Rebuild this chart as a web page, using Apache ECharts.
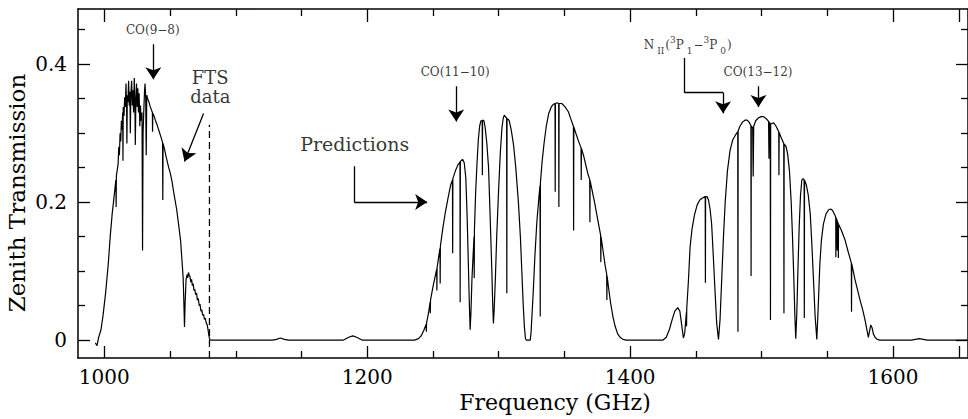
<!DOCTYPE html>
<html><head><meta charset="utf-8">
<script src="https://cdn.jsdelivr.net/npm/echarts@6/dist/echarts.min.js"></script>
<style>html,body{margin:0;padding:0;background:#fff}#c{width:968px;height:419px}</style>
</head><body><div id="c"></div>
<script>
// ---- measured FTS transmission (GHz, zenith transmission)
const ftsSpectrum = [
[993.2,-0.004],[994.5,-0.008],[995.7,0.004],[997.5,0.015],[999,0.035],[1001,0.068],[1003,0.11],[1004.5,0.15],[1006,0.183],[1007,0.2],[1008,0.218],[1008.8,0.232],[1009,0.193],[1009.2,0.238],[1010.5,0.255],[1011,0.28],[1011.5,0.268],[1012,0.3],[1012.5,0.288],[1013,0.318],[1013.5,0.305],[1014,0.33],[1014.2,0.26],[1014.4,0.338],[1015,0.325],[1015.5,0.352],[1016,0.338],[1016.5,0.372],[1017,0.33],[1017.2,0.285],[1017.5,0.355],[1018,0.345],[1018.5,0.376],[1019,0.34],[1019.5,0.36],[1019.8,0.3],[1020.2,0.355],[1020.8,0.376],[1021.3,0.34],[1021.8,0.362],[1022.3,0.33],[1022.8,0.38],[1023.3,0.342],[1023.6,0.283],[1024,0.345],[1024.5,0.372],[1025,0.338],[1025.5,0.365],[1026,0.33],[1026.5,0.358],[1027,0.31],[1027.5,0.34],[1028,0.318],[1028.7,0.33],[1029.1,0.13],[1029.5,0.3],[1030,0.33],[1030.6,0.36],[1031,0.372],[1031.5,0.352],[1031.9,0.268],[1032.3,0.355],[1033,0.35],[1034,0.345],[1035,0.338],[1036,0.333],[1036.6,0.33],[1036.7,0.302],[1036.9,0.329],[1038,0.324],[1039,0.318],[1040,0.313],[1041,0.307],[1042,0.301],[1043,0.295],[1044.3,0.287],[1044.5,0.203],[1044.7,0.285],[1046,0.275],[1047,0.266],[1048,0.258],[1049,0.25],[1050.2,0.242],[1051.5,0.23],[1053,0.212],[1055,0.19],[1056.5,0.168],[1058,0.145],[1059,0.118],[1060,0.09],[1060.6,0.05],[1061,0.019],[1061.5,0.055],[1062.2,0.088],[1063,0.095],[1063.5,0.09],[1064,0.098],[1064.6,0.094],[1065.2,0.092],[1065.8,0.084],[1066.4,0.088],[1067,0.079],[1067.6,0.082],[1068.2,0.072],[1068.8,0.074],[1069.5,0.066],[1070.2,0.068],[1070.8,0.058],[1071.5,0.06],[1072.2,0.05],[1072.8,0.052],[1073.5,0.042],[1074.2,0.044],[1074.8,0.036],[1075.5,0.037],[1076.2,0.03],[1076.8,0.032],[1077.5,0.025],[1078.3,0.022],[1079,0.014],[1079.6,0.006],[1080.2,0.001],[1080.5,0]
];
// ---- model predictions (GHz, zenith transmission)
const predSpectrum = [
[1080.5,0],[1128,0],[1131,0.001],[1134,0.003],[1137,0.001],[1140,0],[1182,0],[1186,0.004],[1189,0.006],[1192,0.004],[1196,0],[1236,0],[1239,0.002],[1241,0.006],[1243,0.014],
[1244.85,0.023],[1245,0.012],[1245.15,0.025],[1246.5,0.038],[1247.85,0.055],[1248,0.039],[1248.15,0.058],[1250,0.077],[1252.85,0.103],[1253,0.072],[1253.15,0.105],[1255.35,0.133],[1255.5,0.082],[1255.65,0.136],[1257.5,0.162],[1259.5,0.186],[1261.5,0.206],[1263.5,0.225],[1264.85,0.232],[1265,0.126],[1265.15,0.234],[1267,0.245],[1269,0.254],[1270.55,0.258],[1270.7,0.055],[1270.85,0.259],[1272.5,0.262],[1273.8,0.257],[1275,0.235],[1276,0.18],[1277,0.105],[1277.8,0.045],[1278.3,0.015],[1278.9,0.04],[1279.7,0.09],[1281.25,0.15],[1281.4,0.09],[1281.55,0.16],[1282.5,0.215],[1283.4,0.252],[1284.5,0.29],[1285.5,0.31],[1286.5,0.318],[1287.45,0.318],[1287.6,0.239],[1287.75,0.319],[1288.8,0.318],[1289.8,0.307],[1291,0.285],[1292.3,0.25],[1293.5,0.18],[1294.8,0.1],[1295.5,0.05],[1296,0.024],[1296.6,0.045],[1297.5,0.09],[1298.5,0.15],[1300,0.22],[1301.2,0.27],[1302.5,0.308],[1303.5,0.322],[1304.3,0.326],[1305.5,0.323],[1306.05,0.322],[1306.2,0.068],[1306.35,0.321],[1307.2,0.32],[1308,0.318],[1309.5,0.305],[1311.3,0.283],[1313,0.25],[1315,0.2],[1316.5,0.15],[1317.6,0.1],[1318.7,0.05],[1319.6,0.018],[1320.4,0.002],[1321,0],[1324,0],[1324.6,0.01],[1325.3,0.035],[1326.3,0.07],[1327.5,0.12],[1329,0.17],[1330.5,0.205],[1331.45,0.224],[1331.6,0.034],[1331.75,0.228],[1333,0.258],[1334.5,0.285],[1336.2,0.31],[1338,0.328],[1340,0.338],[1341.7,0.342],[1342.85,0.343],[1343,0.215],[1343.15,0.343],[1344.3,0.344],[1345.65,0.343],[1345.8,0.193],[1345.95,0.343],[1348,0.343],[1350.5,0.338],[1353,0.331],[1355,0.32],[1356.85,0.31],[1357,0.159],[1357.15,0.309],[1359,0.298],[1361,0.287],[1362.65,0.279],[1362.8,0.232],[1362.95,0.278],[1364.5,0.268],[1366.5,0.252],[1368,0.24],[1369.25,0.233],[1369.4,0.171],[1369.55,0.231],[1371.5,0.213],[1373.3,0.196],[1375.3,0.175],[1377.55,0.152],[1377.7,0.113],[1377.85,0.15],[1379.5,0.128],[1381,0.108],[1382.15,0.096],[1382.3,0.058],[1382.45,0.093],[1383.8,0.073],[1385.2,0.053],[1387,0.033],[1388.6,0.02],[1390.5,0.009],[1392.4,0.004],[1394.5,0.001],[1397,0],
[1425,0],[1427.5,0.004],[1430,0.016],[1432,0.03],[1434,0.042],[1436.2,0.047],[1437.8,0.042],[1439,0.025],[1440.5,0.003],[1441.5,0.01],[1442.8,0.04],[1442.9,0.02],[1443.05,0.045],[1444.3,0.085],[1445.6,0.135],[1447,0.16],[1449,0.182],[1451,0.196],[1453,0.203],[1455,0.206],[1457.1,0.208],[1457.25,0.083],[1457.4,0.208],[1458.5,0.208],[1459.6,0.203],[1460.8,0.19],[1462,0.168],[1463.3,0.12],[1464.6,0.07],[1465.8,0.025],[1467.2,0.001],[1468.4,0.03],[1469.7,0.09],[1471,0.15],[1472.3,0.2],[1474,0.245],[1476,0.275],[1478,0.29],[1480,0.297],[1481.85,0.302],[1482,0.012],[1482.15,0.303],[1483.5,0.31],[1485.5,0.316],[1487.5,0.319],[1489,0.319],[1490.5,0.316],[1491.85,0.311],[1492,0.093],[1492.15,0.31],[1493.2,0.308],[1493.6,0.237],[1494,0.31],[1495.5,0.318],[1497.5,0.322],[1499.5,0.324],[1501.5,0.324],[1503.5,0.321],[1505.3,0.317],[1505.6,0.263],[1505.9,0.316],[1506.6,0.314],[1506.75,0.029],[1506.9,0.313],[1508,0.314],[1509.2,0.315],[1511,0.31],[1513.05,0.302],[1513.2,0.239],[1513.35,0.301],[1515,0.293],[1516.85,0.285],[1517,0.039],[1517.15,0.284],[1518.5,0.281],[1519.8,0.27],[1521.2,0.245],[1522.5,0.2],[1523.5,0.15],[1524.5,0.09],[1525.3,0.035],[1526,0.002],[1526.8,0.04],[1527.6,0.1],[1528.6,0.165],[1529.6,0.21],[1530.6,0.232],[1531.5,0.234],[1532.35,0.232],[1532.5,0.032],[1532.65,0.232],[1534,0.225],[1535.5,0.21],[1537,0.183],[1538.2,0.14],[1539.4,0.09],[1540.7,0.035],[1542,0.001],[1543,0.045],[1544.3,0.11],[1545.5,0.145],[1547,0.168],[1549,0.183],[1551,0.189],[1552.5,0.19],[1554,0.188],[1555.8,0.181],[1556.4,0.178],[1556.5,0.12],[1556.6,0.177],[1557.4,0.174],[1557.5,0.13],[1557.6,0.172],[1558.3,0.169],[1558.4,0.119],[1558.5,0.168],[1560.5,0.16],[1563.5,0.145],[1566,0.127],[1568.25,0.112],[1568.4,0.041],[1568.55,0.111],[1571,0.088],[1574.9,0.058],[1577,0.043],[1578.7,0.029],[1580.3,0.013],[1581.2,0.004],[1582,0.012],[1583,0.022],[1584,0.018],[1585,0.009],[1586.3,0.004],[1588,0.001],[1590,0],[1614,0],[1620,0.002],[1626,0],[1657,0]
];
// ---- axis ticks
const xLabelTicks = [1000, 1200, 1400, 1600];
const xLongTicks = [1000, 1200, 1400, 1600, 1650];
const xShortTicks = [1050, 1100, 1150, 1250, 1300, 1350, 1450, 1500, 1550];
const yLabelTicks = [0, 0.2, 0.4];
const yShortTicks = [0.05, 0.1, 0.15, 0.25, 0.3, 0.35, 0.45];
// ---- FTS data limit (dashed)
const ftsLimit = [[1080, -0.026], [1080, 0.312]];
// ---- annotation arrows (data coordinates, last point = arrow head)
const arrowPaths = [
  [[1037.3, 0.429], [1037.3, 0.378]],
  [[1075.5, 0.3285], [1061.0, 0.259]],
  [[1190.1, 0.252], [1190.1, 0.2], [1245.6, 0.2]],
  [[1267.7, 0.368], [1267.7, 0.317]],
  [[1441.1, 0.409], [1441.1, 0.359], [1470.7, 0.359], [1470.7, 0.329]],
  [[1497.6, 0.368], [1497.6, 0.338]]
];
// ---- annotation labels
const labelTexts = ['CO(9\u22128)', 'FTS', 'data', 'Predictions', 'CO(11\u221210)', 'CO(13\u221212)'];
const labelAt = [[1036.9, 0.449], [1080.6, 0.381], [1080.6, 0.353], [1190.5, 0.284], [1266.9, 0.388], [1497.3, 0.388]];
const labelSize = [12, 18, 18, 19, 12, 12];
const niiAt = [1409.9, 0.4275];

const FONT = 'DejaVu Serif';
const XMIN = 980, XMAX = 1657, YMIN = -0.026, YMAX = 0.48;

function xAxisDef(position, ticks, len, showLine, showLabel) {
  return {
    type: 'value', min: XMIN, max: XMAX, position: position,
    axisLine: { show: showLine, onZero: false, lineStyle: { color: '#000', width: 1.5 } },
    axisTick: { show: true, inside: true, length: len, customValues: ticks, lineStyle: { color: '#000', width: 1.3 } },
    axisLabel: showLabel ? { show: true, customValues: xLabelTicks, color: '#000', fontFamily: FONT, fontSize: 20, margin: 9,
      formatter: v => String(Math.round(v)) } : { show: false },
    splitLine: { show: false }
  };
}
function yAxisDef(position, ticks, len, showLine, showLabel) {
  return {
    type: 'value', min: YMIN, max: YMAX, position: position,
    axisLine: { show: showLine, onZero: false, lineStyle: { color: '#000', width: 1.5 } },
    axisTick: { show: true, inside: true, length: len, customValues: ticks, lineStyle: { color: '#000', width: 1.3 } },
    axisLabel: showLabel ? { show: true, customValues: yLabelTicks, color: '#000', fontFamily: FONT, fontSize: 20, margin: 11,
      formatter: v => (Math.abs(v) < 1e-9 ? '0' : v.toFixed(1)) } : { show: false },
    splitLine: { show: false }
  };
}

const labelData = labelTexts.map((t, i) => ({
  value: labelAt[i],
  label: { show: true, position: 'inside', formatter: t, color: '#000', fontFamily: FONT, fontSize: labelSize[i], align: 'center' }
}));
labelData.push({
  value: niiAt,
  label: {
    show: true, position: 'right', distance: 0,
    formatter: '{n|N}{sb|II}{n|(}{sp|3}{n|P}{sb|1}{n|\u2212}{sp|3}{n|P}{sb|0}{n|)}',
    rich: {
      n: { fontFamily: FONT, fontSize: 12, color: '#000', lineHeight: 20 },
      sp: { fontFamily: FONT, fontSize: 9, color: '#000', verticalAlign: 'top', lineHeight: 10 },
      sb: { fontFamily: FONT, fontSize: 9, color: '#000', verticalAlign: 'bottom', lineHeight: 10, padding: [0, 1, 0, 3] }
    }
  }
});

// split each arrow path into shaft segments and a final head segment
const shaftSegs = [], headSegs = [];
arrowPaths.forEach(p => {
  for (let i = 0; i < p.length - 1; i++) {
    const seg = { coords: [p[i], p[i + 1]] };
    if (i === p.length - 2) headSegs.push(seg); else shaftSegs.push(seg);
  }
});

const chart = echarts.init(document.getElementById('c'), null, { renderer: 'svg' });
chart.setOption({
  animation: false,
  backgroundColor: '#fff',
  grid: { left: 78, right: 0, top: 9, bottom: 61, containLabel: false, outerBoundsMode: 'none' },
  xAxis: [
    xAxisDef('bottom', xLongTicks, 12, true, true),
    xAxisDef('bottom', xShortTicks, 7, false, false),
    xAxisDef('top', xLongTicks, 13, true, false),
    xAxisDef('top', xShortTicks, 7, false, false)
  ],
  yAxis: [
    yAxisDef('left', yLabelTicks, 12, true, true),
    yAxisDef('left', yShortTicks, 7, false, false),
    yAxisDef('right', yLabelTicks, 12, true, false),
    yAxisDef('right', yShortTicks, 7, false, false)
  ],
  graphic: [
    { type: 'text', x: 555, y: 402, style: { text: 'Frequency (GHz)', fontFamily: FONT, fontSize: 22, fill: '#000', textAlign: 'center', textVerticalAlign: 'middle' } },
    { type: 'text', x: 17, y: 193, rotation: Math.PI / 2, style: { text: 'Zenith Transmission', fontFamily: FONT, fontSize: 23, fill: '#000', textAlign: 'center', textVerticalAlign: 'middle' } }
  ],
  series: [
    { type: 'line', name: 'FTS', data: ftsSpectrum, symbol: 'none', lineStyle: { color: '#000', width: 1.2 }, z: 3 },
    { type: 'line', name: 'Predictions', data: predSpectrum, symbol: 'none', lineStyle: { color: '#000', width: 1.2 }, z: 3 },
    { type: 'line', name: 'limit', data: ftsLimit, symbol: 'none', lineStyle: { color: '#000', width: 1.3, type: [7, 4] }, z: 3 },
    { type: 'lines', coordinateSystem: 'cartesian2d', symbol: ['none', 'none'],
      lineStyle: { color: '#000', width: 1.3, opacity: 1 }, data: shaftSegs, z: 4 },
    { type: 'lines', coordinateSystem: 'cartesian2d', symbol: ['none', 'arrow'], symbolSize: 12,
      lineStyle: { color: '#000', width: 1.3, opacity: 1 }, data: headSegs, z: 4 },
    { type: 'scatter', data: labelData, symbolSize: 1, itemStyle: { color: 'rgba(0,0,0,0)' }, z: 5 }
  ]
});
</script>
</body></html>
